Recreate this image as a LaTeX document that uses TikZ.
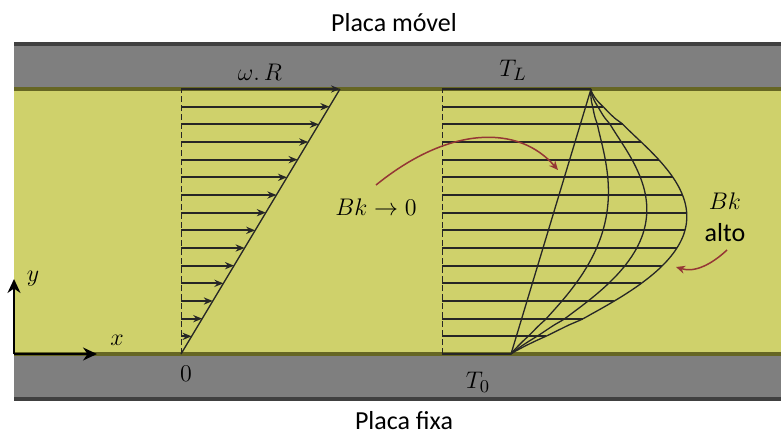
\documentclass[tikz,border=0pt]{standalone}
\usepackage[no-math]{fontspec}
\setmainfont{Carlito}
\usepackage{tikz}
\usetikzlibrary{arrows.meta,positioning}
\usepackage{xcolor}
\definecolor{plategray}{HTML}{7F7F7F}
\definecolor{platedark}{HTML}{404040}
\definecolor{fluid}{HTML}{CFD16B}
\definecolor{wallolive}{HTML}{666623}
\definecolor{linedark}{HTML}{262626}
\definecolor{bkred}{HTML}{953735}

\begin{document}
\begin{tikzpicture}[
    x=0.5pt, y=-0.5pt,
    lbl/.style={font=\fontsize{13}{16}\selectfont, inner sep=0pt},
    vel/.style={-{Stealth[length=4.5pt, width=3.6pt]}, line width=1pt, color=linedark},
    iso/.style={line width=1pt, color=linedark},
    prof/.style={line width=0.65pt, color=linedark},
    base/.style={dash pattern=on 3pt off 1.5pt, line width=0.5pt, color=linedark},
    axis/.style={-{Stealth[length=7pt, width=6.5pt]}, line width=1pt, color=black},
    hint/.style={-{Stealth[length=4.5pt, width=4pt]}, line width=0.75pt, color=bkred},
]

\useasboundingbox (0,0) rectangle (781,434);

% placas e fluido
\fill[plategray] (14,42) rectangle (781,401);
\fill[platedark] (14,42) rectangle (781,46);
\fill[platedark] (14,397) rectangle (781,401);
\fill[fluid] (14,89) rectangle (781,354);
\fill[wallolive] (14,87) rectangle (781,91);
\fill[wallolive] (14,352) rectangle (781,356);

\node[lbl] (movel) at (394,23) {Placa móvel};
\node[lbl, anchor=base] (fixa) at (404,429) {Placa fixa};
\node[lbl] (wR) at (260,72) {$\omega.\,R$};
\node[lbl] (TL) at (513,70) {$T_L$};
\node[lbl] (T0) at (478,382) {$T_0$};
\node[lbl] (zero) at (186,374) {$0$};
\node[lbl] (xlab) at (117,340) {$x$};
\node[lbl] (ylab) at (33,279) {$y$};
\node[lbl] (bkzero) at (376,207) {$Bk \to 0$};
\node[lbl] (bkalto) at (725,201) {$Bk$};
\node[lbl] (alto) at (725,233) {alto};

% eixos
\coordinate (orig) at (14,354);
\coordinate (yend) at (14,279);
\coordinate (xend) at (97,354);
\draw[axis] (orig) -- (yend);
\draw[axis] (orig) -- (xend);

% perfil de velocidade
\coordinate (u0) at (181,354);
\coordinate (uL) at (340,89);
\draw[base] (u0) -- (181,89);
\draw[prof] (u0) -- (uL);
\foreach \k in {0,...,14} {
    \pgfmathsetmacro\yy{89+\k*265/15}
    \pgfmathsetmacro\xx{181+159*(15-\k)/15}
    \draw[vel] (181,\yy) -- (\xx,\yy);
}

% perfis de temperatura
\coordinate (t0) at (511,354);
\coordinate (tL) at (591,89);
\draw[base] (442,354) -- (442,89);
\draw[iso] (442,89) -- (tL);
\draw[iso] (442,354) -- (t0);
\foreach \k in {1,...,14} {
    \pgfmathsetmacro\ee{1-\k/15}
    \pgfmathsetmacro\yy{89+\k*265/15}
    \pgfmathsetmacro\xx{511+80*\ee+822*\ee^1.2*(1-\ee)^1.4}
    \draw[iso] (442,\yy) -- (\xx,\yy);
}
\draw[prof] (t0) -- (tL);
\foreach \K in {0.4,0.7,1} {
    \draw[prof] (t0) -- plot[domain=0.01:0.99, samples=50, smooth] ({511+80*\x+822*\K*\x^1.2*(1-\x)^1.4}, {354-265*\x}) -- (tL);
}

% setas Bk
\coordinate (bkzerotail) at (376,185);
\coordinate (bkzerotip) at (558,170);
\draw[hint] (bkzerotail) .. controls (450,125) and (519,125) .. (bkzerotip);
\coordinate (altotail) at (727,250);
\coordinate (altotip) at (676,267);
\draw[hint] (altotail) .. controls (712,264) and (695,273) .. (altotip);

\end{tikzpicture}
\end{document}
